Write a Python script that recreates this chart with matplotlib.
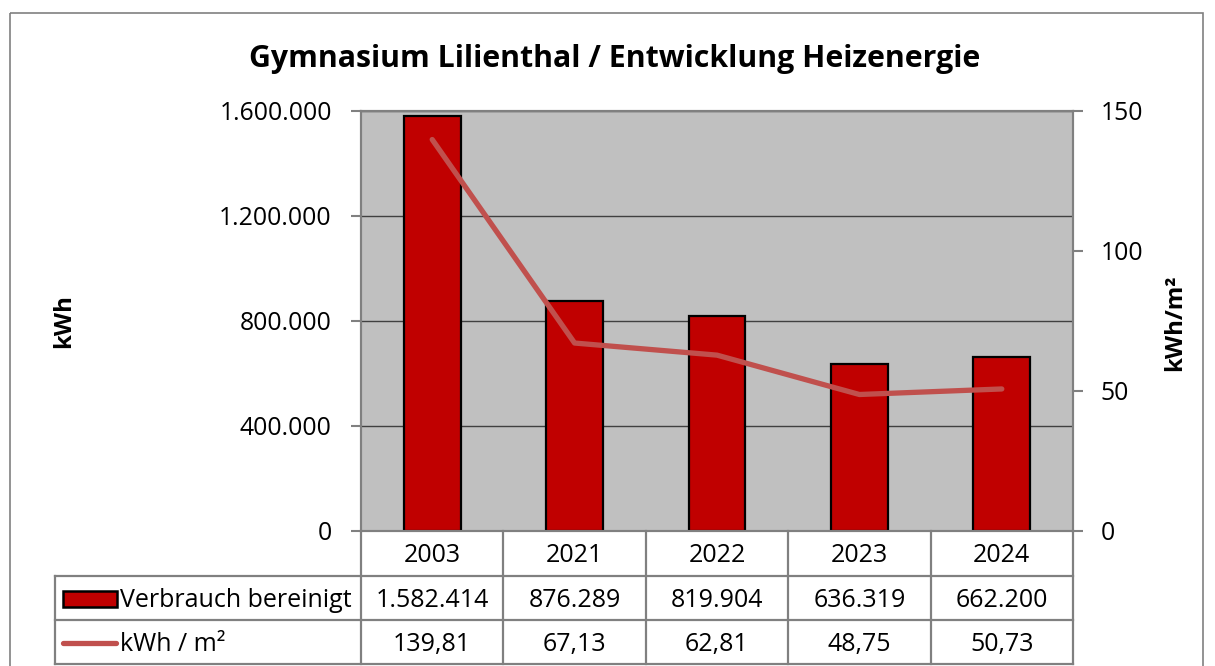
import numpy as np
import matplotlib
matplotlib.use("Agg")
import matplotlib.pyplot as plt
from matplotlib.patches import Rectangle
from matplotlib.lines import Line2D

plt.rcParams['font.family'] = ['Open Sans', 'DejaVu Sans']

# ---- data ----
title = "Gymnasium Lilienthal / Entwicklung Heizenergie"
years = ["2003", "2021", "2022", "2023", "2024"]
verbrauch = [1582414, 876289, 819904, 636319, 662200]
kwh_m2 = [139.81, 67.13, 62.81, 48.75, 50.73]
series_names = ["Verbrauch bereinigt", "kWh / m²"]
left_ticks = [0, 400000, 800000, 1200000, 1600000]
right_ticks = [0, 50, 100, 150]
left_label = "kWh"
right_label = "kWh/m²"

def de_int(v):
    return f"{v:,.0f}".replace(",", ".")

def de_dec(v):
    return f"{v:.2f}".replace(".", ",")

W, H = 1215, 666
fig = plt.figure(figsize=(W / 100, H / 100), dpi=100)

def fr(x0, y0, x1, y1):
    return [x0 / W, 1 - y1 / H, (x1 - x0) / W, (y1 - y0) / H]

PL, PT, PR, PB = 361, 111, 1073, 531
BAR_C = '#C00000'
LINE_C = '#C0504D'
GRAY = '#808080'
FS_TICK = 17.8
FS_T = 18.0
DY = 2.5

ax = fig.add_axes(fr(PL, PT, PR, PB))
ax.set_facecolor('#C0C0C0')
x = np.arange(len(years))
ax.bar(x, verbrauch, width=0.4, color=BAR_C, edgecolor='black', linewidth=1.6, zorder=3)
ax.set_xlim(-0.5, len(years) - 0.5)
ax.set_ylim(0, 1600000)
ax.set_yticks(left_ticks)
ax.set_yticklabels([de_int(v) for v in left_ticks])
ax.yaxis.grid(True, color='#404040', linewidth=1.0, zorder=1)
ax.set_axisbelow(True)
ax.set_xticks([])
for s in ax.spines.values():
    s.set_color(GRAY)
    s.set_linewidth(1.5)
ax.tick_params(axis='y', length=7, width=1.5, color=GRAY, labelsize=FS_TICK, pad=14)

ax2 = ax.twinx()
ax2.plot(x, kwh_m2, color=LINE_C, linewidth=3.8, solid_capstyle='round', solid_joinstyle='round', zorder=4)
ax2.set_ylim(0, 150)
ax2.set_yticks(right_ticks)
ax2.set_yticklabels([str(v) for v in right_ticks])
for s in ax2.spines.values():
    s.set_color(GRAY)
    s.set_linewidth(1.5)
ax2.tick_params(axis='y', length=7, width=1.5, color=GRAY, labelsize=FS_TICK, pad=13)

# overlay for title, labels, table
ov = fig.add_axes([0, 0, 1, 1], facecolor='none')
ov.set_xlim(0, W)
ov.set_ylim(H, 0)
ov.axis('off')

ov.add_patch(Rectangle((10, 13), 1193, 700, fill=False, edgecolor=GRAY, linewidth=1.2))
ov.text(615, 59, title, ha='center', va='center', fontsize=21.8, fontweight='bold')
ov.text(64, 321, left_label, ha='center', va='center', rotation=90, fontsize=17.3, fontweight='bold')
ov.text(1175, 323, right_label, ha='center', va='center', rotation=90, fontsize=17.3, fontweight='bold')

# data table
n = len(years)
cw = (PR - PL) / n
rows_y = [PB, 576, 620, 664]
TL = 55
lw_t = 1.6
ov.add_line(Line2D([TL, PR], [rows_y[1], rows_y[1]], color=GRAY, lw=lw_t))
ov.add_line(Line2D([TL, PR], [rows_y[2], rows_y[2]], color=GRAY, lw=lw_t))
ov.add_line(Line2D([TL, PR], [rows_y[3], rows_y[3]], color=GRAY, lw=lw_t))
ov.add_line(Line2D([TL, TL], [rows_y[1], rows_y[3]], color=GRAY, lw=lw_t))
for i in range(n + 1):
    xc = PL + i * cw
    ov.add_line(Line2D([xc, xc], [PB, rows_y[3]], color=GRAY, lw=lw_t))

for i in range(n):
    cx = PL + (i + 0.5) * cw
    ov.text(cx, (rows_y[0] + rows_y[1]) / 2 + DY, years[i], ha='center', va='center', fontsize=FS_T)
    ov.text(cx, (rows_y[1] + rows_y[2]) / 2 + DY, de_int(verbrauch[i]), ha='center', va='center', fontsize=FS_T)
    ov.text(cx, (rows_y[2] + rows_y[3]) / 2 + DY, de_dec(kwh_m2[i]), ha='center', va='center', fontsize=FS_T)

# legend keys
ym1 = (rows_y[1] + rows_y[2]) / 2
ym2 = (rows_y[2] + rows_y[3]) / 2
ov.add_patch(Rectangle((63, ym1 - 7), 54, 16, facecolor=BAR_C, edgecolor='black', linewidth=1.8))
ov.add_line(Line2D([63, 116], [ym2 + 1, ym2 + 1], color=LINE_C, lw=3.8, solid_capstyle='round'))
ov.text(120, ym1 + DY, series_names[0], ha='left', va='center', fontsize=FS_T)
ov.text(120, ym2 + DY, series_names[1], ha='left', va='center', fontsize=FS_T)

fig.savefig("out.png", dpi=100)
